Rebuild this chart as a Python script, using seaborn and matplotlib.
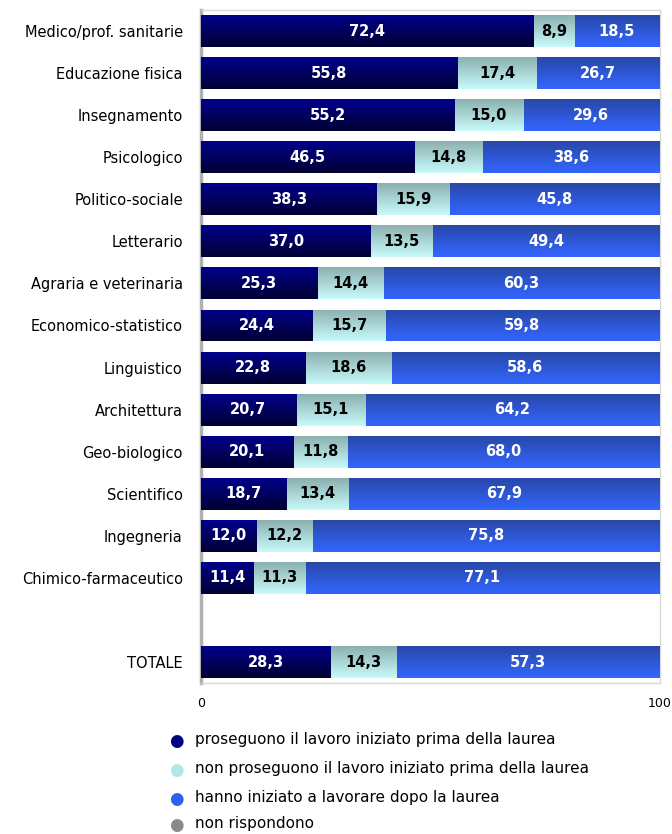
import seaborn as sns
import pandas as pd
import numpy as np
import matplotlib.pyplot as plt

categories = ['Medico/prof. sanitarie', 'Educazione fisica', 'Insegnamento', 'Psicologico',
              'Politico-sociale', 'Letterario', 'Agraria e veterinaria', 'Economico-statistico',
              'Linguistico', 'Architettura', 'Geo-biologico', 'Scientifico', 'Ingegneria',
              'Chimico-farmaceutico', 'TOTALE']
proseguono = [72.4, 55.8, 55.2, 46.5, 38.3, 37.0, 25.3, 24.4, 22.8, 20.7, 20.1, 18.7, 12.0, 11.4, 28.3]
non_proseguono = [8.9, 17.4, 15.0, 14.8, 15.9, 13.5, 14.4, 15.7, 18.6, 15.1, 11.8, 13.4, 12.2, 11.3, 14.3]
dopo_laurea = [18.5, 26.7, 29.6, 38.6, 45.8, 49.4, 60.3, 59.8, 58.6, 64.2, 68.0, 67.9, 75.8, 77.1, 57.3]
non_rispondono = [0.2, 0.1, 0.2, 0.1, 0.0, 0.1, 0.0, 0.1, 0.0, 0.0, 0.1, 0.0, 0.0, 0.2, 0.1]
positions = list(range(14)) + [15]

series_names = ['proseguono il lavoro iniziato prima della laurea',
                'non proseguono il lavoro iniziato prima della laurea',
                'hanno iniziato a lavorare dopo la laurea',
                'non rispondono']
colors = ['#000070', '#b4e4e4', '#3060e8', '#8c8c8c']
marker_colors = ['#000080', '#b0e8e8', '#3060f0', '#8a8a8a']
# vertical gradients (top, bottom) like the original
gradients = [('#00008c', '#000032'), ('#8cb0b0', '#c8fafa'),
             ('#2848a8', '#3366ff'), ('#7a7a7a', '#a0a0a0')]
text_colors = ['white', 'black', 'white']

df = pd.DataFrame({'cat': categories, 'pos': positions,
                   's1': proseguono, 's2': non_proseguono, 's3': dopo_laurea, 's4': non_rispondono})
df['c1'] = df['s1']
df['c2'] = df['c1'] + df['s2']
df['c3'] = df['c2'] + df['s3']
df['c4'] = df['c3'] + df['s4']

plt.rcParams['font.family'] = ['DejaVu Sans']
fig = plt.figure(figsize=(6.72, 8.34), dpi=100)
ax = fig.add_axes([0.299, 0.181, 0.683, 0.807])


def grad_img(top, bottom):
    t = np.array(plt.matplotlib.colors.to_rgb(top))
    b = np.array(plt.matplotlib.colors.to_rgb(bottom))
    f = np.linspace(0, 1, 64)[:, None]
    return (t * (1 - f) + b * f)[:, None, :]


# draw from back to front, cumulative
layer = 0
for col, color, grad in zip(['c4', 'c3', 'c2', 'c1'], colors[::-1], gradients[::-1]):
    n0 = len(ax.patches)
    sns.barplot(data=df, x=col, y='pos', orient='h', native_scale=True,
                color=color, width=0.76, saturation=1, ax=ax, linewidth=0)
    img = grad_img(*grad)
    for p in ax.patches[n0:]:
        x0, y0 = p.get_x(), p.get_y()
        w, h = p.get_width(), p.get_height()
        p.set_zorder(2 + layer)
        im = ax.imshow(img, extent=(x0, x0 + w, y0 + h, y0), origin='upper',
                       aspect='auto', interpolation='bilinear', zorder=2 + layer)
        im.set_clip_path(p)
    layer += 1

for i, row in df.iterrows():
    left = 0
    for k in range(3):
        val = row['s%d' % (k + 1)]
        ax.text(left + val / 2, row['pos'], ('%.1f' % val).replace('.', ','),
                ha='center', va='center', fontsize=10.5, fontweight='bold',
                color=text_colors[k], zorder=10)
        left += val

ax.set_xlim(0, 100)
ax.set_ylim(15.5, -0.5)
ax.set_yticks(positions)
ax.set_yticklabels(categories, fontsize=10.5)
ax.set_xticks([0, 100])
ax.set_xticklabels(['0', '100'], fontsize=9)
ax.tick_params(length=0, pad=13)
ax.tick_params(axis='x', pad=10)
ax.set_xlabel('')
ax.set_ylabel('')
for s in ['top', 'right', 'bottom']:
    ax.spines[s].set_color('#d8d8d8')
    ax.spines[s].set_linewidth(1)
ax.spines['left'].set_color('#b0b0b0')
ax.spines['left'].set_linewidth(2.5)

# legend
leg_y = [741, 770, 799, 825]
for name, mc, y in zip(series_names, marker_colors, leg_y):
    fy = 1 - y / 834
    fig.text(176 / 672, fy, '\u25cf', color=mc, fontsize=12, ha='center', va='center')
    fig.text(195 / 672, fy + 0.002, name, fontsize=11, ha='left', va='center')

fig.savefig('out.png', dpi=100)
